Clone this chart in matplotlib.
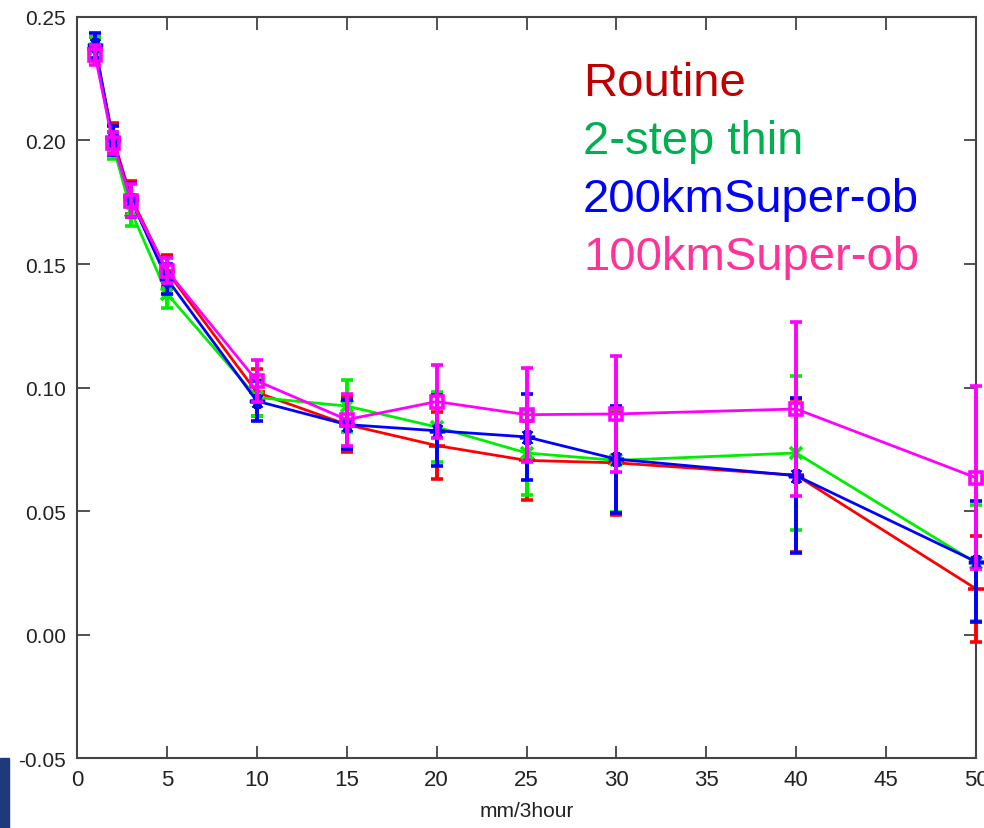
import matplotlib
matplotlib.use("Agg")
import matplotlib.pyplot as plt
from matplotlib.patches import Rectangle

plt.rcParams['font.family'] = ['Liberation Sans', 'DejaVu Sans']

# rain rate bins (mm/3hour)
x = [1, 2, 3, 5, 10, 15, 20, 25, 30, 40, 50]

routine = [0.237, 0.201, 0.177, 0.147, 0.098, 0.085, 0.0765, 0.0705, 0.0695, 0.0645, 0.0185]
routine_err = [0.005, 0.006, 0.0067, 0.0065, 0.0094, 0.011, 0.0135, 0.016, 0.021, 0.031, 0.0215]

thin2 = [0.237, 0.198, 0.1715, 0.138, 0.096, 0.0925, 0.084, 0.0735, 0.0705, 0.0735, 0.029]
thin2_err = [0.005, 0.0055, 0.006, 0.006, 0.0075, 0.0105, 0.014, 0.017, 0.021, 0.031, 0.0235]

sob200 = [0.2385, 0.200, 0.176, 0.144, 0.0945, 0.085, 0.0825, 0.080, 0.071, 0.0643, 0.0295]
sob200_err = [0.005, 0.006, 0.0068, 0.006, 0.008, 0.010, 0.0143, 0.0175, 0.0217, 0.0313, 0.0245]

sob100 = [0.2345, 0.199, 0.1757, 0.1473, 0.1027, 0.087, 0.0943, 0.089, 0.0893, 0.0913, 0.0635]
sob100_err = [0.004, 0.0045, 0.0065, 0.005, 0.0084, 0.0105, 0.0147, 0.019, 0.0235, 0.0352, 0.037]

names = ['Routine', '2-step thin', '200kmSuper-ob', '100kmSuper-ob']
label_colors = ['#c00000', '#00b050', '#0000ff', '#ff3399']

fig = plt.figure(figsize=(9.84, 8.29), dpi=100)
ax = fig.add_axes([0.0783, 0.0844, 0.9136, 0.8939])

series = [
    (routine, routine_err, '#ff0000', '+', 12),
    (thin2, thin2_err, '#00ee00', 'x', 9),
    (sob200, sob200_err, '#0000ff', (6, 2, 90), 11),
    (sob100, sob100_err, '#ff00ff', 's', 9),
]
for i, (y, e, c, m, ms) in enumerate(series):
    ax.errorbar(x, y, yerr=e, color=c, lw=2, elinewidth=2.8, capsize=4.5,
                capthick=3.2, marker=m, ms=ms, mew=2.6, mfc='none', zorder=3 + i,
                clip_on=False)

ax.set_xlim(0, 50)
ax.set_ylim(-0.05, 0.25)
ax.set_xticks(range(0, 51, 5))
ax.set_yticks([-0.05, 0.0, 0.05, 0.10, 0.15, 0.20, 0.25])
ax.set_yticklabels(['-0.05', '0.00', '0.05', '0.10', '0.15', '0.20', '0.25'])
ax.tick_params(direction='in', length=9, width=1.2, top=True, right=True,
               colors='#333333', labelcolor='#222222', pad=8)
ax.tick_params(axis='y', labelsize=15)
ax.tick_params(axis='x', labelsize=16)
for s in ax.spines.values():
    s.set_color('#444444')
    s.set_linewidth(1.5)
ax.set_xlabel('mm/3hour', fontsize=15, color='#222222', labelpad=8)

# legend as colored text
ys = [0.8842, 0.8142, 0.7443, 0.6743]
for name, c, yy in zip(names, label_colors, ys):
    fig.text(0.5925, yy, name, color=c, fontsize=34, va='baseline')

# bit of slide background at bottom-left
fig.patches.append(Rectangle((0, 0), 0.009, 0.085, transform=fig.transFigure,
                             color='#1f3a7a', zorder=0))

fig.savefig('out.png', dpi=100)
